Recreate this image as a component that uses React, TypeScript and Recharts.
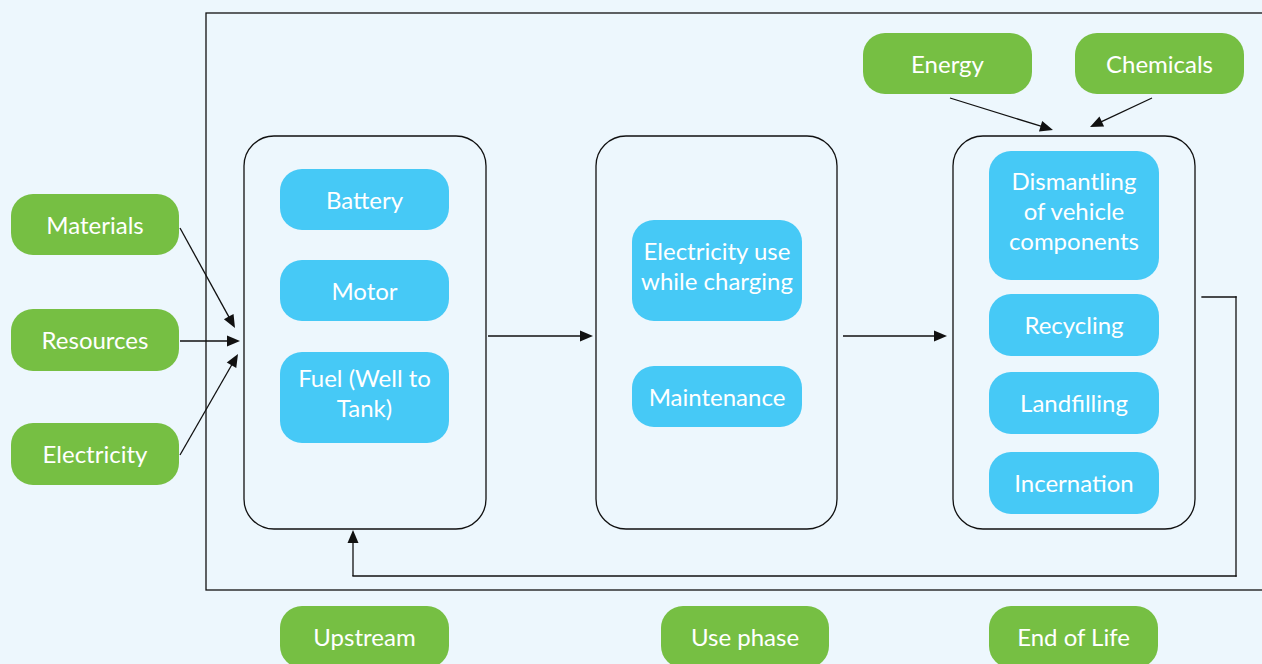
import React from 'react';
import { ComposedChart, XAxis, YAxis, ReferenceArea, ReferenceLine } from 'recharts';

const W = 1262;
const H = 664;

const GREEN = '#76BF43';
const BLUE = '#46C9F6';
const BG = '#EDF7FD';
const INK = '#111111';
const FONT = 'Lato, "Open Sans", sans-serif';

type Box = { lines: string[]; x1: number; x2: number; y1: number; y2: number };

// Green input / phase nodes
const greenNodes: Box[] = [
  { lines: ['Materials'], x1: 11, x2: 179, y1: 194, y2: 255 },
  { lines: ['Resources'], x1: 11, x2: 179, y1: 309, y2: 371 },
  { lines: ['Electricity'], x1: 11, x2: 179, y1: 423, y2: 485 },
  { lines: ['Energy'], x1: 863, x2: 1032, y1: 33, y2: 94 },
  { lines: ['Chemicals'], x1: 1075, x2: 1244, y1: 33, y2: 94 },
  { lines: ['Upstream'], x1: 280, x2: 449, y1: 606, y2: 668 },
  { lines: ['Use phase'], x1: 661, x2: 829, y1: 606, y2: 668 },
  { lines: ['End of Life'], x1: 989, x2: 1158, y1: 606, y2: 668 },
];

// Blue process nodes
const blueNodes: Box[] = [
  { lines: ['Battery'], x1: 280, x2: 449, y1: 169, y2: 230 },
  { lines: ['Motor'], x1: 280, x2: 449, y1: 260, y2: 321 },
  { lines: ['Fuel (Well to', 'Tank)'], x1: 280, x2: 449, y1: 352, y2: 443 },
  { lines: ['Electricity use', 'while charging'], x1: 632, x2: 802, y1: 220, y2: 321 },
  { lines: ['Maintenance'], x1: 632, x2: 802, y1: 366, y2: 427 },
  { lines: ['Dismantling', 'of vehicle', 'components'], x1: 989, x2: 1159, y1: 151, y2: 280 },
  { lines: ['Recycling'], x1: 989, x2: 1159, y1: 294, y2: 356 },
  { lines: ['Landfilling'], x1: 989, x2: 1159, y1: 372, y2: 434 },
  { lines: ['Incernation'], x1: 989, x2: 1159, y1: 452, y2: 514 },
];

// Stage frames
const stageFrames = [
  { x1: 244, x2: 486, y1: 136, y2: 529 },
  { x1: 596, x2: 837, y1: 136, y2: 529 },
  { x1: 953, x2: 1195, y1: 136, y2: 529 },
];

const outerFrame = { x1: 206, x2: 1290, y1: 13, y2: 590 };

// Arrows [from, to]
const arrows = [
  [[180, 228], [235, 328]],
  [[180, 341], [240, 341]],
  [[180, 455], [238, 354]],
  [[488, 336], [593, 336]],
  [[843, 336], [947, 336]],
  [[950, 98], [1053, 130]],
  [[1152, 98], [1090, 127]],
];

// Return path (last segment has arrow head)
const returnPath = [
  [1202, 297],
  [1236, 297],
  [1236, 576],
  [353, 576],
  [353, 530],
];

const pillShape = (fill: string, lines: string[], r: number) => (p: any) => {
  const { x, y, width, height } = p;
  const fs = 24;
  const lh = 30;
  const cx = x + width / 2;
  const cy = y + height / 2 + (lines.length > 1 ? -4 : 0.5);
  const first = cy - ((lines.length - 1) * lh) / 2 + fs * 0.36;
  return (
    <g>
      <rect x={x} y={y} width={width} height={height} rx={r} ry={r} fill={fill} />
      <text x={cx} textAnchor="middle" fill="#FFFFFF" fontFamily={FONT} fontSize={fs}>
        {lines.map((l, i) => (
          <tspan key={i} x={cx} y={first + i * lh}>
            {l}
          </tspan>
        ))}
      </text>
    </g>
  );
};

const frameShape = (r: number) => (p: any) => {
  const { x, y, width, height } = p;
  return <rect x={x} y={y} width={width} height={height} rx={r} ry={r} fill="none" stroke={INK} strokeWidth={1.3} />;
};

const arrowShape = (head: boolean) => (p: any) => {
  const { x1, y1, x2, y2 } = p;
  const dx = x2 - x1;
  const dy = y2 - y1;
  const len = Math.sqrt(dx * dx + dy * dy) || 1;
  const ux = dx / len;
  const uy = dy / len;
  const hl = 13;
  const hw = 5.5;
  if (!head) {
    return <line x1={x1} y1={y1} x2={x2} y2={y2} stroke={INK} strokeWidth={1.3} strokeLinecap="square" />;
  }
  const bx = x2 - ux * hl;
  const by = y2 - uy * hl;
  const pts = `${x2},${y2} ${bx - uy * hw},${by + ux * hw} ${bx},${by} ${bx + uy * hw},${by - ux * hw}`;
  return (
    <g>
      <line x1={x1} y1={y1} x2={bx + ux * 2} y2={by + uy * 2} stroke={INK} strokeWidth={1.3} />
      <polygon points={pts} fill={INK} />
    </g>
  );
};

export default function App() {
  return (
    <div style={{ position: 'absolute', left: 0, top: 0, width: W, height: H, background: BG, overflow: 'hidden' }}>
      <ComposedChart width={W} height={H} margin={{ top: 0, right: 0, bottom: 0, left: 0 }}>
        <XAxis type="number" dataKey="x" domain={[0, W]} hide allowDataOverflow />
        <YAxis type="number" dataKey="y" domain={[0, H]} reversed hide allowDataOverflow />
        <ReferenceArea
          x1={outerFrame.x1}
          x2={outerFrame.x2}
          y1={outerFrame.y1}
          y2={outerFrame.y2}
          ifOverflow="visible"
          shape={frameShape(0)}
        />
        {stageFrames.map((f, i) => (
          <ReferenceArea key={'s' + i} x1={f.x1} x2={f.x2} y1={f.y1} y2={f.y2} ifOverflow="visible" shape={frameShape(30)} />
        ))}
        {greenNodes.map((n, i) => (
          <ReferenceArea
            key={'g' + i}
            x1={n.x1}
            x2={n.x2}
            y1={n.y1}
            y2={n.y2}
            ifOverflow="visible"
            shape={pillShape(GREEN, n.lines, 22)}
          />
        ))}
        {blueNodes.map((n, i) => (
          <ReferenceArea
            key={'b' + i}
            x1={n.x1}
            x2={n.x2}
            y1={n.y1}
            y2={n.y2}
            ifOverflow="visible"
            shape={pillShape(BLUE, n.lines, 22)}
          />
        ))}
        {arrows.map((a, i) => (
          <ReferenceLine
            key={'a' + i}
            segment={[
              { x: a[0][0], y: a[0][1] },
              { x: a[1][0], y: a[1][1] },
            ]}
            ifOverflow="visible"
            shape={arrowShape(true)}
          />
        ))}
        {returnPath.slice(1).map((pt, i) => (
          <ReferenceLine
            key={'r' + i}
            segment={[
              { x: returnPath[i][0], y: returnPath[i][1] },
              { x: pt[0], y: pt[1] },
            ]}
            ifOverflow="visible"
            shape={arrowShape(i === returnPath.length - 2)}
          />
        ))}
      </ComposedChart>
    </div>
  );
}
